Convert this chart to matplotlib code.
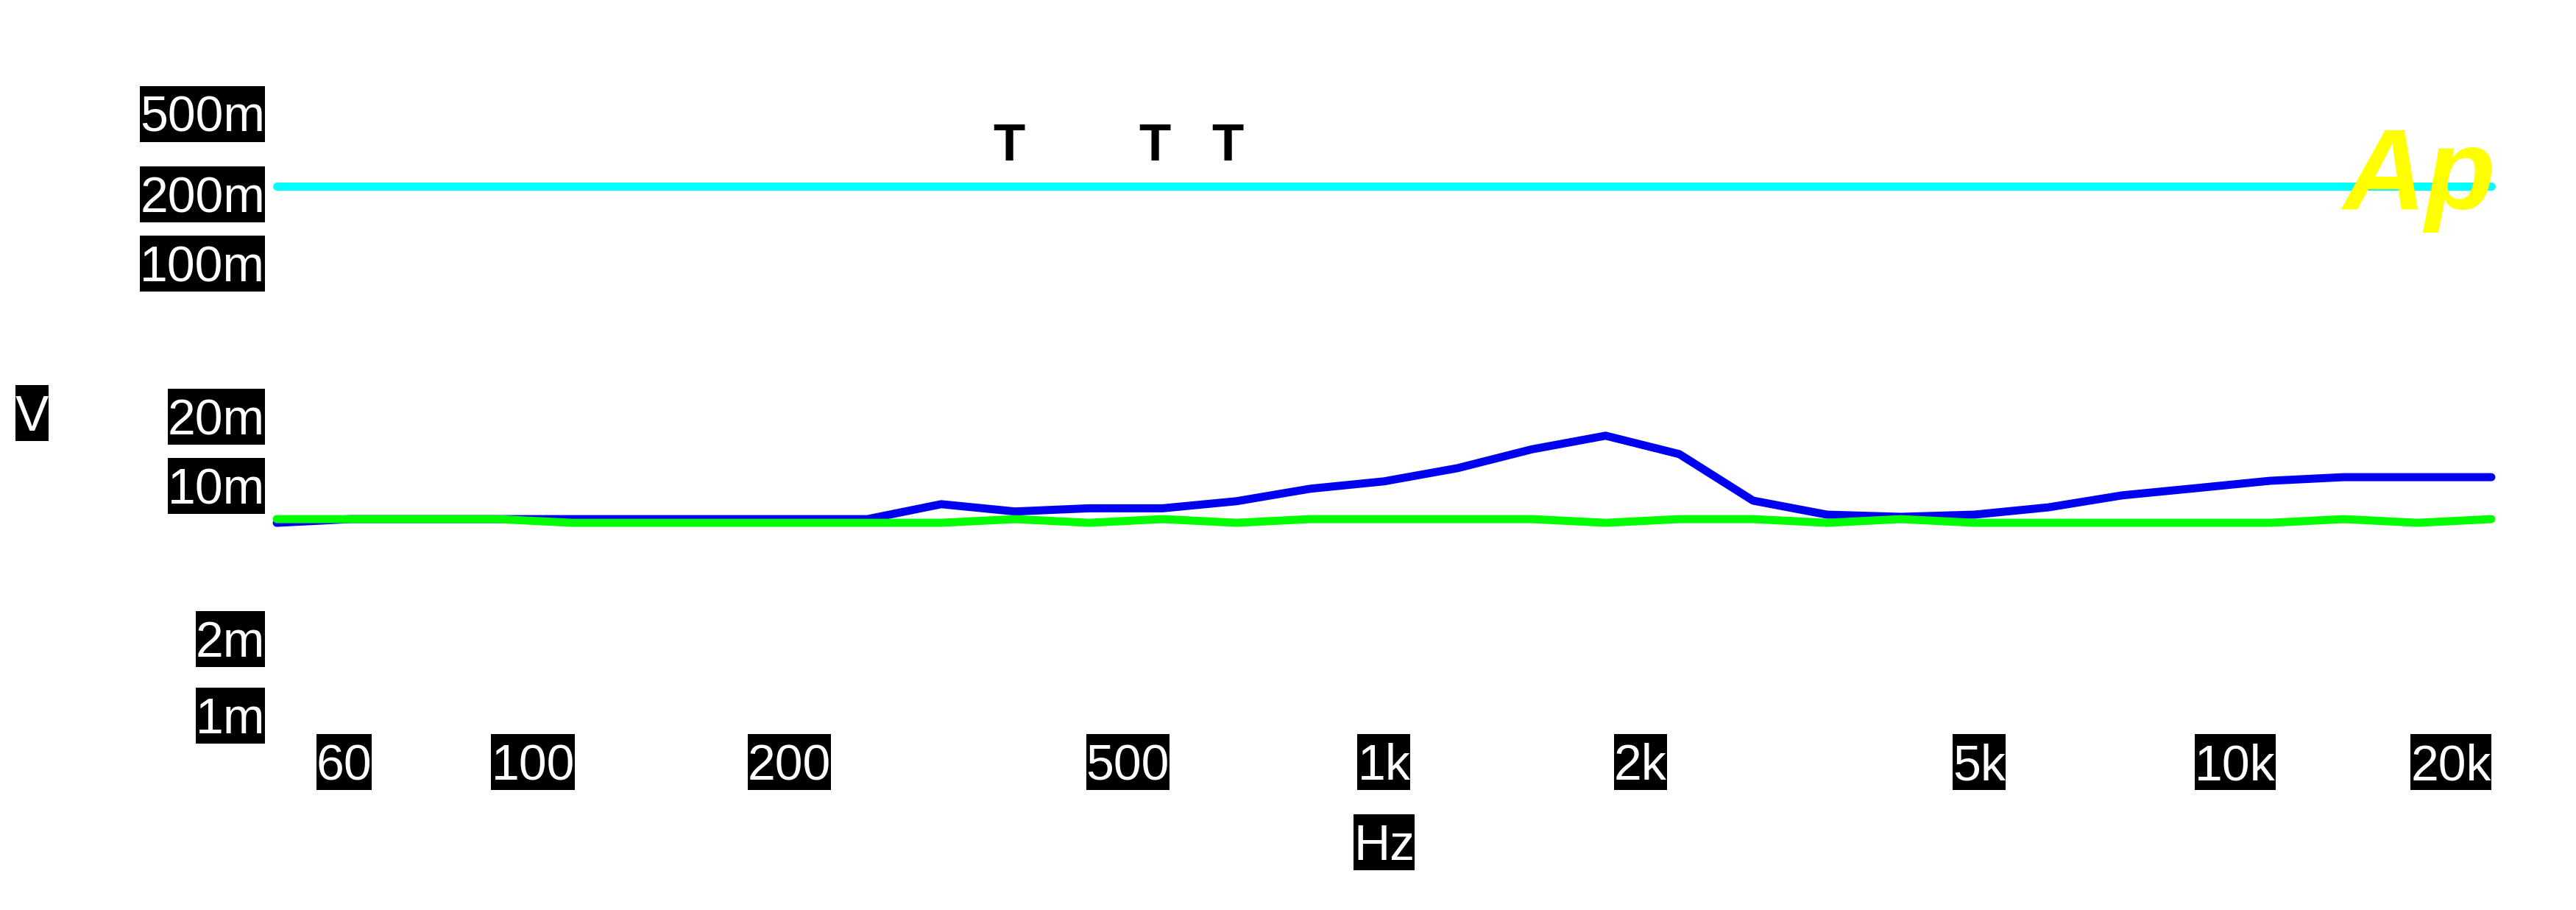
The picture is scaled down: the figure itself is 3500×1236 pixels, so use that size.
import matplotlib
matplotlib.use("Agg")
import matplotlib.pyplot as plt
import matplotlib.transforms as mtrans
from matplotlib.path import Path
from matplotlib.ticker import NullLocator

plt.rcParams['font.family'] = ['Liberation Sans', 'DejaVu Sans']

# ---------------- data ----------------
freq_hz = [50, 61.06, 74.56, 91.05, 111.2, 135.8, 165.8, 202.4, 247.2, 301.8,
           368.5, 449.9, 549.3, 670.8, 819.0, 1000, 1221, 1491, 1821, 2223,
           2714, 3314, 4047, 4942, 6034, 7368, 8997, 10986, 13414, 16380, 20000]

blue_v = [6.91e-3, 7.18e-3, 7.18e-3, 7.18e-3, 7.18e-3, 7.18e-3, 7.18e-3, 7.18e-3,
          7.18e-3, 8.38e-3, 7.77e-3, 8.03e-3, 8.03e-3, 8.64e-3, 9.83e-3, 10.61e-3,
          12.17e-3, 14.77e-3, 17.01e-3, 14.06e-3, 8.69e-3, 7.52e-3, 7.35e-3, 7.52e-3,
          8.11e-3, 9.18e-3, 9.89e-3, 10.67e-3, 11.08e-3, 11.08e-3, 11.08e-3]

green_v = [7.18e-3, 7.18e-3, 7.18e-3, 7.18e-3, 6.91e-3, 6.91e-3, 6.91e-3, 6.91e-3,
           6.91e-3, 6.91e-3, 7.18e-3, 6.91e-3, 7.18e-3, 6.91e-3, 7.18e-3, 7.18e-3,
           7.18e-3, 7.18e-3, 6.91e-3, 7.18e-3, 7.18e-3, 6.91e-3, 7.18e-3, 6.91e-3,
           6.91e-3, 6.91e-3, 6.91e-3, 6.91e-3, 7.18e-3, 6.91e-3, 7.18e-3]

cyan_freq = [50, 20000]
cyan_v = [0.2252, 0.2252]

x_ticks = [60, 100, 200, 500, 1000, 2000, 5000, 10000, 20000]
x_labels = ['60', '100', '200', '500', '1k', '2k', '5k', '10k', '20k']
y_ticks = [1e-3, 2e-3, 10e-3, 20e-3, 100e-3, 200e-3, 500e-3]
y_labels = ['1m', '2m', '10m', '20m', '100m', '200m', '500m']
# small vertical nudges (px, downward) of the y labels as placed in the original
y_label_nudge = [8, -5, -1.5, -4.5, -1, -4, 7]

marker_freq = [362.5, 538, 655]
marker_level = 0.2935
marker_text = 'T'

x_label = 'Hz'
y_label = 'V'
logo = 'Ap'

# ---------------- figure ----------------
W, H, DPI = 3500, 1236, 100
fig = plt.figure(figsize=(W / DPI, H / DPI), dpi=DPI, facecolor='white')
ax = fig.add_axes([376 / W, 1 - 964 / H, (3385 - 376) / W, (964 - 56.7) / H])
ax.set_facecolor('white')
ax.set_xscale('log')
ax.set_yscale('log')
ax.set_xlim(50, 20000)
ax.set_ylim(1e-3, 1.0)
for s in ax.spines.values():
    s.set_visible(False)

LW = 7.9
ax.plot(cyan_freq, cyan_v, color='#00FFFF', lw=LW, solid_capstyle='round',
        clip_on=False, zorder=2)
ax.plot(freq_hz, blue_v, color='#0000F0', lw=LW, solid_capstyle='round',
        solid_joinstyle='round', clip_on=False, zorder=3)
ax.plot(freq_hz, green_v, color='#00FF00', lw=LW, solid_capstyle='round',
        solid_joinstyle='round', clip_on=False, zorder=4)


def label_box(x0, y0, width, height, mutation_size):
    top = 0.176 * mutation_size
    return Path([(x0, y0), (x0 + width, y0), (x0 + width, y0 + height + top),
                 (x0, y0 + height + top), (x0, y0)], closed=True)


box = dict(boxstyle=label_box, facecolor='black', edgecolor='none')
FS = 49

ax.xaxis.set_minor_locator(NullLocator())
ax.yaxis.set_minor_locator(NullLocator())
ax.set_xticks(x_ticks, x_labels)
ax.set_yticks(y_ticks, y_labels)
ax.tick_params(axis='both', length=0, labelsize=FS, labelcolor='white')
ax.tick_params(axis='x', pad=45 * 0.72)
ax.tick_params(axis='y', pad=16 * 0.72)

for lab in ax.get_xticklabels():
    lab.set_bbox(box)
xl = ax.get_xticklabels()
xl[-1].set_ha('right')
for lab, nudge in zip(ax.get_yticklabels(), y_label_nudge):
    lab.set_bbox(box)
    lab.set_va('center')
    off = mtrans.ScaledTranslation(0, -(6 + nudge) / DPI, fig.dpi_scale_trans)
    lab.set_transform(lab.get_transform() + off)

ax.set_xlabel(x_label, fontsize=FS, color='white', bbox=box, va='top')
ax.xaxis.set_label_coords(0.5, (964 - 1118) / (964 - 56.7))
ax.set_ylabel(y_label, fontsize=FS, color='white', bbox=box, rotation=0,
              ha='center', va='center')
ax.yaxis.set_label_coords((43.5 - 376) / (3385 - 376), (964 - 567) / (964 - 56.7))

for f in marker_freq:
    ax.text(f, marker_level, marker_text, fontsize=51, fontweight='bold',
            color='black', ha='center', va='baseline', zorder=6)

fig.text(3183 / W, 1 - 284 / H, logo, fontsize=112, fontweight='bold',
         fontstyle='italic', color='#FFFF00', ha='left', va='baseline', zorder=10)

fig.savefig('out.png', dpi=DPI, facecolor='white')
